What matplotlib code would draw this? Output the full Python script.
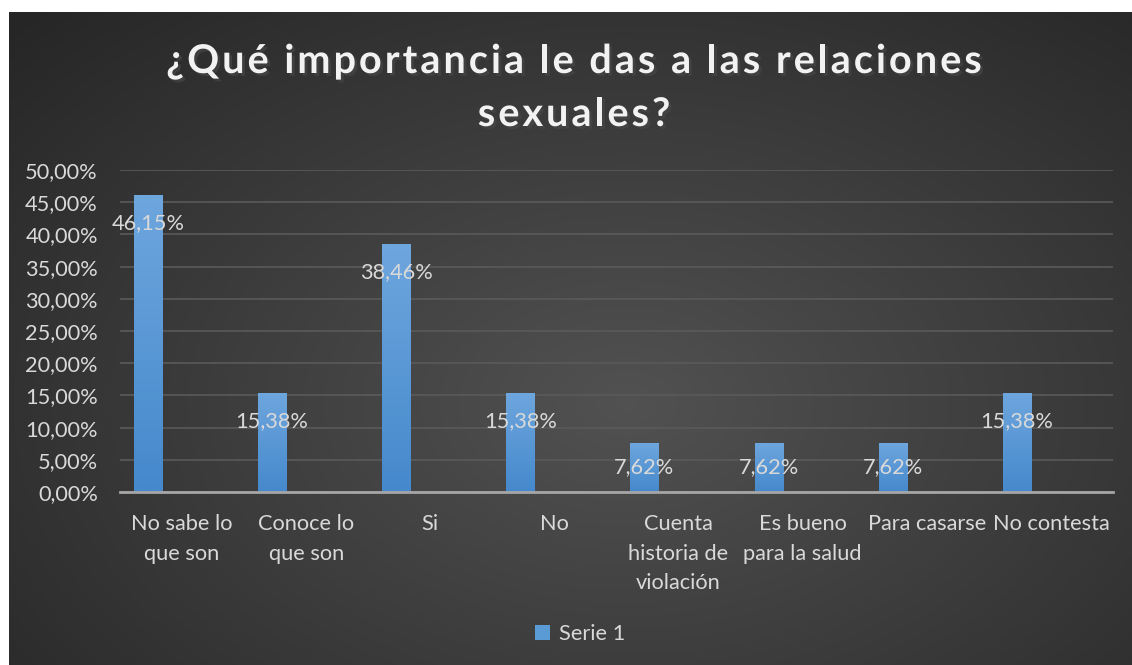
import numpy as np
import matplotlib.pyplot as plt
import matplotlib.patheffects as pe
from matplotlib.ticker import FuncFormatter
from matplotlib.font_manager import FontProperties
from matplotlib.colors import LinearSegmentedColormap

categories = ['No sabe lo\nque son', 'Conoce lo\nque son', 'Si', 'No',
              'Cuenta\nhistoria de\nviolación', 'Es bueno\npara la salud',
              'Para casarse', 'No contesta']
values = [0.4615, 0.1538, 0.3846, 0.1538, 0.0762, 0.0762, 0.0762, 0.1538]
yticks = [0.0, 0.05, 0.10, 0.15, 0.20, 0.25, 0.30, 0.35, 0.40, 0.45, 0.50]
series_name = 'Serie 1'
title_lines = ['¿Qué importancia le das a las relaciones', 'sexuales?']

W, H = 1132, 665
FONT = 'Lato'
TXT = '#d9d9d9'
FS = 15.7

def pct(v, pos=None):
  return f'{v*100:.2f}%'.replace('.', ',')

fig = plt.figure(figsize=(W/100, H/100), dpi=100, facecolor='white')

# dark radial background of the chart area
bg = fig.add_axes([9/W, 0, 1 - 9/W, (H-12)/H])
bg.set_axis_off()
yy, xx = np.mgrid[0:1:300j, 0:1:500j]
r = np.sqrt(((xx - 0.55)/0.75)**2 + ((yy - 0.4)/0.85)**2)
shade = np.clip(1 - r, 0, 1)
grad = 0.15 + 0.17*shade
bg.imshow(np.dstack([grad]*3), extent=[0, 1, 0, 1], aspect='auto', origin='lower')
bg.set_xlim(0, 1); bg.set_ylim(0, 1)

ax = fig.add_axes([120/W, (H-492)/H, (1113-120)/W, (492-170)/H])
ax.patch.set_alpha(0)
x = np.arange(len(categories))
bars = ax.bar(x - 0.275, values, width=0.226, color='#5b9bd5', zorder=3)

# vertical gradient in each bar
bgrad = np.linspace(0, 1, 100).reshape(-1, 1)
cmap = LinearSegmentedColormap.from_list('b', ['#4589cc', '#6ea6de'])
for b in bars:
  im = ax.imshow(bgrad, cmap=cmap, origin='lower', aspect='auto', zorder=3,
                 extent=[b.get_x(), b.get_x()+b.get_width(), 0, b.get_height()])
  im.set_clip_path(b)

ax.set_xlim(-0.5, len(categories) - 0.5)
ax.set_ylim(0, 0.5)
ax.set_yticks(yticks)
ax.yaxis.set_major_formatter(FuncFormatter(pct))
ax.set_xticks(x)
ax.set_xticklabels(categories, linespacing=1.58)
ax.grid(axis='y', color='#5a5a5a', linewidth=1.2, zorder=0)
for s in ['top', 'right', 'left']:
  ax.spines[s].set_visible(False)
ax.spines['bottom'].set_color('#a6a6a6')
ax.spines['bottom'].set_linewidth(2)
ax.spines['bottom'].set_zorder(4)
ax.tick_params(length=0, colors=TXT, labelsize=FS)
ax.tick_params(axis='x', pad=16)
ax.tick_params(axis='y', pad=16)
for lab in ax.get_xticklabels() + ax.get_yticklabels():
  lab.set_fontfamily(FONT)

ax_h = 492 - 170
for b, v in zip(bars, values):
  h_px = v / 0.5 * ax_h
  off = min(28, h_px / 2)
  ax.annotate(pct(v), (b.get_x() + b.get_width()/2, v), xytext=(0, -off),
              textcoords='offset pixels', ha='center', va='center',
              color=TXT, fontsize=FS, fontfamily=FONT, zorder=5)

# title with letter spacing, drawn char by char
renderer = fig.canvas.get_renderer()
tprop = FontProperties(family=FONT, weight='bold', size=28.5)
track = 3.0
def textw(s):
  return renderer.get_text_width_height_descent(s, tprop, ismath=False)[0]
for line, yc in zip(title_lines, [58, 111]):
  total = textw(line) + track*(len(line) - 1)
  x0 = 574 - total/2
  for i, ch in enumerate(line):
    if ch == ' ':
      continue
    xp = x0 + textw(line[:i]) + track*i if i else x0
    fig.text(xp/W, 1 - yc/H, ch, ha='left', va='center_baseline', color='#f2f2f2',
             fontproperties=tprop,
             path_effects=[pe.withSimplePatchShadow(offset=(2, -2), alpha=0.6)])

leg = fig.legend([bars[0]], [series_name], loc='center', bbox_to_anchor=(580/W, 1 - 634/H),
                 frameon=False, prop={'family': FONT, 'size': FS},
                 handlelength=0.7, handleheight=0.7, handletextpad=0.4)
for t in leg.get_texts():
  t.set_color(TXT)

fig.savefig('out.png', dpi=100, facecolor='white')
